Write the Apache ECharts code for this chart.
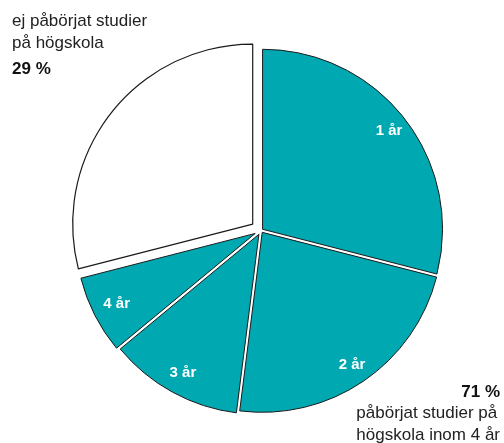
<!DOCTYPE html>
<html><head><meta charset="utf-8">
<script src="https://cdn.jsdelivr.net/npm/echarts@6/dist/echarts.min.js"></script>
<style>html,body{margin:0;padding:0;background:#fff}#c{width:504px;height:443px}</style>
</head><body><div id="c"></div>
<script>
var categories = ['1 år', '2 år', '3 år', '4 år', 'ej påbörjat studier på högskola'];
var values = [29, 23, 12, 7, 29];
var sliceColors = ['#00A9B2', '#00A9B2', '#00A9B2', '#00A9B2', '#FFFFFF'];
var startedLines = ['påbörjat studier på', 'högskola inom 4 år'];
var notStartedLines = ['ej påbörjat studier', 'på högskola'];

var started = values.slice(0, 4).reduce(function (a, b) { return a + b; }, 0);
var notStarted = values[4];

var chart = echarts.init(document.getElementById('c'), null, { renderer: 'canvas' });
var font = 'Liberation Sans, Arial, sans-serif';
var CENTER = [261, 230.5];
var R = 180;
// how far each slice is pulled out of the pie (styling)
var explode = [2, 2.2, 4.3, 6.5, 10.5];

var sliceSeries = categories.map(function (cat, k) {
  return {
    type: 'pie', z: 2, center: CENTER, radius: [0, R], startAngle: 90, clockwise: true,
    silent: true, selectedMode: 'multiple', selectedOffset: explode[k],
    label: { show: false }, labelLine: { show: false },
    data: categories.map(function (c, i) {
      if (i !== k) return { name: c, value: values[i], itemStyle: { color: 'transparent', borderWidth: 0 } };
      return { name: c, value: values[i], selected: true,
        itemStyle: { color: sliceColors[i], borderColor: '#1a1a1a', borderWidth: i === 4 ? 1.2 : 1 } };
    })
  };
});
var labelData = categories.map(function (c, i) {
  return { name: c, value: values[i], label: { show: i < 4 } };
});

chart.setOption({
  animation: false,
  series: sliceSeries.concat([{
    type: 'pie', z: 10, center: CENTER, radius: [116, 202], startAngle: 90, clockwise: true, silent: true,
    itemStyle: { color: 'transparent', borderWidth: 0 },
    label: { show: true, position: 'inside', color: '#fff', fontWeight: 'bold', fontSize: 15, fontFamily: font, formatter: '{b}' },
    labelLine: { show: false },
    data: labelData
  }]),
  graphic: [
    { type: 'text', left: 12, top: 10, style: { text: notStartedLines.join('\n'), font: '17px ' + font, lineHeight: 22, fill: '#222' } },
    { type: 'text', left: 12, top: 61, style: { text: notStarted + ' %', font: 'bold 17px ' + font, fill: '#111' } },
    { type: 'text', right: 4, top: 384, style: { text: started + ' %', font: 'bold 17px ' + font, fill: '#111', align: 'right' } },
    { type: 'text', right: 4, top: 402, style: { text: startedLines.join('\n'), font: '17px ' + font, lineHeight: 22, fill: '#222', align: 'right' } }
  ]
});
</script></body></html>
